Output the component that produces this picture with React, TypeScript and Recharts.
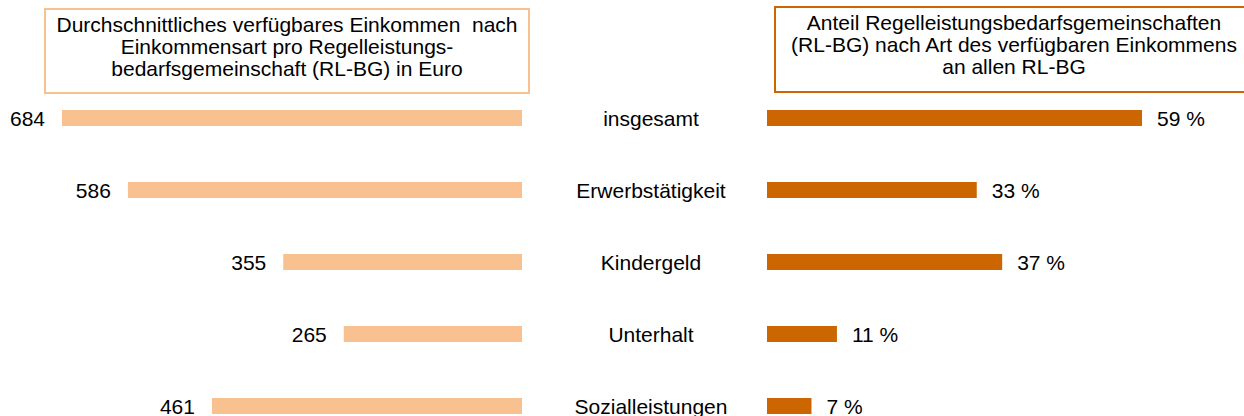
import React from 'react';
import { BarChart, Bar, XAxis, YAxis, LabelList } from 'recharts';

const categories = ['insgesamt', 'Erwerbstätigkeit', 'Kindergeld', 'Unterhalt', 'Sozialleistungen'];
const euroValues = [684, 586, 355, 265, 461];
const shareValues = [59, 33, 37, 11, 7];
const leftTitle = ['Durchschnittliches verfügbares Einkommen  nach', 'Einkommensart pro Regelleistungs-', 'bedarfsgemeinschaft (RL-BG) in Euro'];
const rightTitle = ['Anteil Regelleistungsbedarfsgemeinschaften', '(RL-BG) nach Art des verfügbaren Einkommens', 'an allen RL-BG'];

const FONT = '"Liberation Sans", Arial, sans-serif';
const LIGHT = '#F9C090';
const DARK = '#CC6600';

const data = categories.map((name, i) => ({ name, euro: euroValues[i], share: shareValues[i] }));

function TitleBox({ lines, color, style }: { lines: string[]; color: string; style: React.CSSProperties }) {
  return (
    <div
      style={{
        position: 'absolute',
        border: `2px solid ${color}`,
        boxSizing: 'border-box',
        textAlign: 'center',
        fontFamily: FONT,
        fontSize: 21,
        lineHeight: '22px',
        color: '#000',
        whiteSpace: 'pre',
        paddingTop: 4,
        ...style,
      }}
    >
      {lines.map((l) => (
        <div key={l}>{l}</div>
      ))}
    </div>
  );
}

const leftLabel = (props: any) => {
  const { x, y, width, height, value } = props;
  const left = Math.min(x, x + width);
  return (
    <text x={left - 17} y={y + height / 2} textAnchor="end" dominantBaseline="central" fontSize={21} fontFamily={FONT} fill="#000">
      {value}
    </text>
  );
};

const rightLabel = (props: any) => {
  const { x, y, width, height, value } = props;
  const right = Math.max(x, x + width);
  return (
    <text x={right + 15} y={y + height / 2} textAnchor="start" dominantBaseline="central" fontSize={21} fontFamily={FONT} fill="#000">
      {`${value} %`}
    </text>
  );
};

const categoryTick = (props: any) => {
  const { y, payload } = props;
  return (
    <text x={121} y={y} textAnchor="middle" dominantBaseline="central" fontSize={21} fontFamily={FONT} fill="#000">
      {payload.value}
    </text>
  );
};

export default function App() {
  return (
    <div style={{ position: 'absolute', left: 0, top: 0, width: 1244, height: 416, overflow: 'hidden', background: '#fff' }}>
      <TitleBox lines={leftTitle} color={LIGHT} style={{ left: 44, top: 8, width: 486, height: 86 }} />
      <TitleBox lines={rightTitle} color={DARK} style={{ left: 774, top: 6, width: 480, height: 87 }} />

      <div style={{ position: 'absolute', left: 0, top: 0 }}>
        <BarChart width={530} height={450} layout="vertical" data={data} margin={{ top: 82, right: 8, bottom: 8, left: 62 }}>
          <XAxis type="number" domain={[0, 684]} reversed hide />
          <YAxis type="category" dataKey="name" hide />
          <Bar dataKey="euro" fill={LIGHT} barSize={16} isAnimationActive={false}>
            <LabelList dataKey="euro" content={leftLabel} />
          </Bar>
        </BarChart>
      </div>

      <div style={{ position: 'absolute', left: 530, top: 0 }}>
        <BarChart width={714} height={450} layout="vertical" data={data} margin={{ top: 82, right: 102, bottom: 8, left: 0 }}>
          <XAxis type="number" domain={[0, 59]} hide />
          <YAxis type="category" dataKey="name" width={237} axisLine={false} tickLine={false} tick={categoryTick} />
          <Bar dataKey="share" fill={DARK} barSize={16} isAnimationActive={false}>
            <LabelList dataKey="share" content={rightLabel} />
          </Bar>
        </BarChart>
      </div>
    </div>
  );
}
